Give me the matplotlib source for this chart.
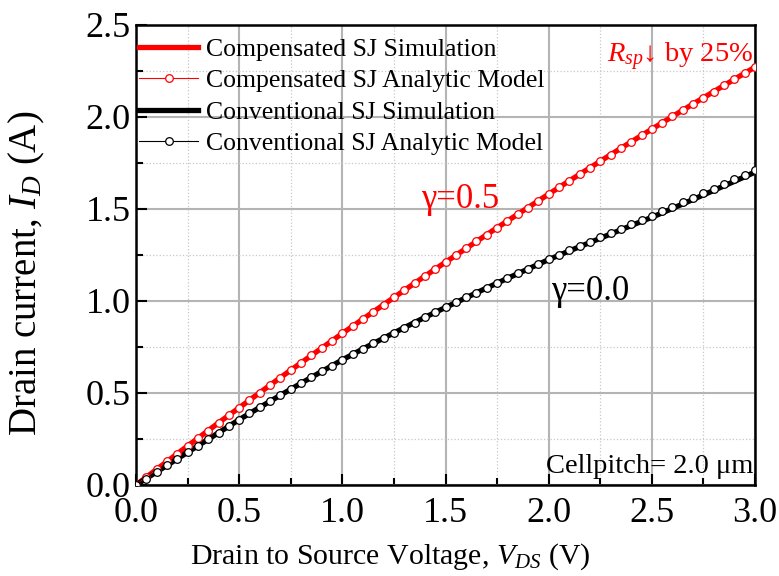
#!/usr/bin/env python

import numpy as np
from matplotlib import pyplot as plt
from matplotlib.ticker import MultipleLocator

plt.rcParams['font.family'] = ['Liberation Serif', 'DejaVu Serif']
plt.rcParams['mathtext.fontset'] = 'custom'
plt.rcParams['mathtext.rm'] = 'Liberation Serif'
plt.rcParams['mathtext.it'] = 'Liberation Serif:italic'
plt.rcParams['mathtext.bf'] = 'Liberation Serif:bold'

#
# Data
#
# simulation curves, 0.1 V steps
vds_sim = np.round(np.arange(0, 31) * 0.1, 2)
comp_sim = [0.000, 0.085, 0.170, 0.254, 0.338, 0.420, 0.502, 0.584, 0.664, 0.744,
            0.824, 0.902, 0.980, 1.058, 1.135, 1.211, 1.286, 1.361, 1.435, 1.508,
            1.581, 1.653, 1.724, 1.795, 1.865, 1.934, 2.003, 2.071, 2.138, 2.205,
            2.271]
conv_sim = [0.000, 0.071, 0.142, 0.213, 0.284, 0.355, 0.422, 0.488, 0.553, 0.617,
            0.680, 0.740, 0.798, 0.855, 0.911, 0.965, 1.018, 1.071, 1.123, 1.174,
            1.225, 1.272, 1.318, 1.364, 1.410, 1.455, 1.503, 1.552, 1.601, 1.650,
            1.700]

# analytic model points, 0.05 V steps
vds_model = np.round(np.arange(0, 61) * 0.05, 3)
comp_model = [0.000, 0.043, 0.085, 0.128, 0.170, 0.212, 0.254, 0.296, 0.338, 0.379,
              0.420, 0.461, 0.502, 0.543, 0.584, 0.624, 0.664, 0.704, 0.744, 0.784,
              0.824, 0.863, 0.902, 0.941, 0.980, 1.019, 1.058, 1.097, 1.135, 1.173,
              1.211, 1.249, 1.286, 1.324, 1.361, 1.398, 1.435, 1.472, 1.508, 1.545,
              1.581, 1.617, 1.653, 1.689, 1.724, 1.760, 1.795, 1.830, 1.865, 1.900,
              1.934, 1.969, 2.003, 2.037, 2.071, 2.105, 2.138, 2.172, 2.205, 2.238,
              2.271]
conv_model = [0.000, 0.035, 0.071, 0.106, 0.142, 0.177, 0.213, 0.248, 0.284, 0.319,
              0.355, 0.389, 0.422, 0.455, 0.488, 0.521, 0.553, 0.585, 0.617, 0.649,
              0.680, 0.710, 0.740, 0.769, 0.798, 0.827, 0.855, 0.883, 0.911, 0.938,
              0.965, 0.992, 1.019, 1.046, 1.072, 1.098, 1.124, 1.150, 1.176, 1.201,
              1.227, 1.251, 1.275, 1.299, 1.322, 1.346, 1.369, 1.393, 1.416, 1.440,
              1.463, 1.488, 1.512, 1.537, 1.561, 1.586, 1.611, 1.636, 1.661, 1.687,
              1.712]

labels = ['Compensated SJ Simulation', 'Compensated SJ Analytic Model',
          'Conventional SJ Simulation', 'Conventional SJ Analytic Model']


#
# Plot
#
fig = plt.figure(figsize=(7.79, 5.76), dpi=100)
ax = fig.add_axes([0.1746, 0.158, 0.7946, 0.7986])

ax.plot(vds_sim, comp_sim, color='red', lw=3.8, label=labels[0], zorder=3)
ax.plot(vds_model, comp_model, color='red', lw=0.8, marker='o', ms=5.5,
        mfc='white', mec='red', mew=0.9, label=labels[1], zorder=4)
ax.plot(vds_sim, conv_sim, color='black', lw=3.8, label=labels[2], zorder=3)
ax.plot(vds_model, conv_model, color='black', lw=0.8, marker='o', ms=5.5,
        mfc='white', mec='black', mew=0.9, label=labels[3], zorder=4)

ax.set_xlim(0, 3.0)
ax.set_ylim(0, 2.5)
ax.xaxis.set_major_locator(MultipleLocator(0.5))
ax.xaxis.set_minor_locator(MultipleLocator(0.25))
ax.yaxis.set_major_locator(MultipleLocator(0.5))
ax.yaxis.set_minor_locator(MultipleLocator(0.25))
ax.xaxis.set_major_formatter(plt.FormatStrFormatter('%.1f'))
ax.yaxis.set_major_formatter(plt.FormatStrFormatter('%.1f'))

ax.tick_params(which='both', direction='in', top=False, right=False, labelsize=26, width=1.5)
ax.tick_params(which='major', length=8)
ax.tick_params(axis='x', which='major', pad=9)
ax.tick_params(axis='y', which='major', pad=4)
ax.tick_params(which='minor', length=5)
for s in ax.spines.values():
    s.set_linewidth(1.8)

ax.grid(which='major', color='#b4b4b4', lw=1.5, ls='-', zorder=0)
ax.grid(which='minor', color='#c8c8c8', lw=0.9, ls=':', zorder=0)
ax.set_axisbelow(True)

ax.set_xlabel('Drain to Source Voltage, $V_{DS}$ (V)', fontsize=21.5)
ax.xaxis.set_label_coords(0.41, -0.123)
ax.set_ylabel('Drain current, $I_D$ (A)', fontsize=28)
ax.yaxis.set_label_coords(-0.143, 0.46)

ax.text(1.57, 1.55, '\u03b3=0.5', color='red', fontsize=25, ha='center', va='center')
ax.text(2.20, 1.05, '\u03b3=0.0', color='black', fontsize=25, ha='center', va='center')
ax.text(2.99, 2.33, '$R_{sp}$\u2193 by 25%', color='red', fontsize=20.5,
        ha='right', va='center')
ax.text(2.99, 0.10, 'Cellpitch= 2.0 \u03bcm', color='black', fontsize=20.5,
        ha='right', va='center')

ax.legend(loc='upper left', bbox_to_anchor=(-0.016, 1.0), frameon=False,
          fontsize=18.5, handlelength=2.3, handletextpad=0.3, labelspacing=0.33,
          borderaxespad=0.3, borderpad=0.2, numpoints=1)

fig.savefig('out.png', dpi=100)
